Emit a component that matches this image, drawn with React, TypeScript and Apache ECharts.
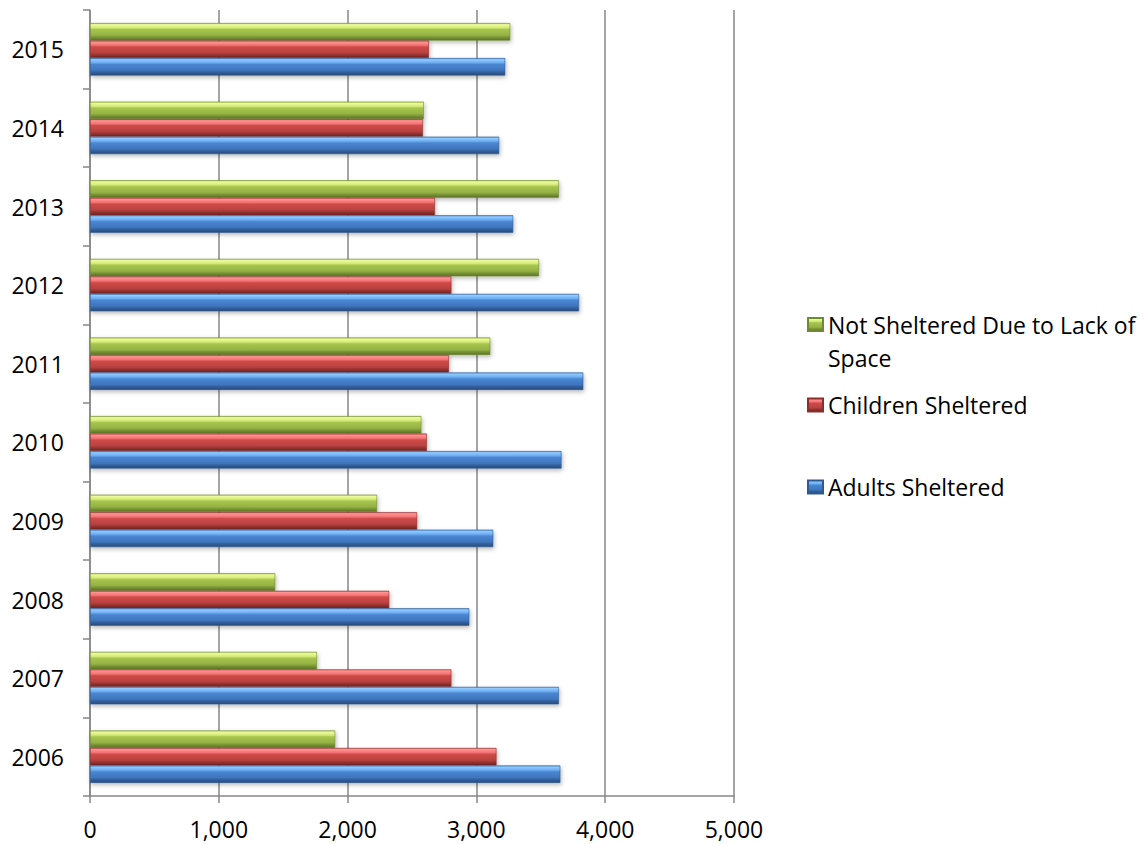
import React, { useEffect, useRef } from "react";
import * as echarts from "echarts";

const years = ["2006", "2007", "2008", "2009", "2010", "2011", "2012", "2013", "2014", "2015"];
const notSheltered = [1904, 1762, 1438, 2229, 2573, 3108, 3486, 3641, 2592, 3263];
const childrenSheltered = [3156, 2806, 2323, 2540, 2615, 2787, 2806, 2678, 2585, 2631];
const adultsSheltered = [3652, 3641, 2945, 3131, 3661, 3830, 3797, 3286, 3177, 3224];
const xTicks = [0, 1000, 2000, 3000, 4000, 5000];

const FONT = "'Open Sans', 'Noto Sans', sans-serif";
const FONT_SIZE = 23;
const GRID_GRAY = "#878787";

function barGradient(stops: string[]) {
  const pos = [0, 0.08, 0.26, 0.36, 0.7, 0.82, 1];
  return new echarts.graphic.LinearGradient(
    0, 0, 0, 1,
    stops.map((c, i) => ({ offset: pos[i], color: c }))
  );
}

const greenFill = ["#b3cf55", "#eefb9c", "#d2e977", "#a7c54f", "#95b244", "#7b9637", "#5c7326"];
const redFill = ["#e46666", "#ff9292", "#f27272", "#cf4a48", "#b84240", "#983432", "#702421"];
const blueFill = ["#5a9be6", "#90caff", "#6cabf1", "#4a86d2", "#3f76bd", "#33609d", "#274a79"];

export default function App() {
  const ref = useRef<HTMLDivElement>(null);

  useEffect(() => {
    if (!ref.current) return;
    const chart = echarts.init(ref.current, undefined, { renderer: "svg" });

    const barCommon = {
      type: "bar" as const,
      barWidth: 17.5,
      barGap: "0%",
    };
    const shadow = {
      shadowColor: "rgba(0,0,0,0.28)",
      shadowBlur: 4,
      shadowOffsetY: 2,
      shadowOffsetX: 1,
    };

    const legendBase = {
      orient: "vertical" as const,
      left: 807,
      padding: 0,
      itemWidth: 15,
      itemHeight: 13,
      icon: "rect",
      selectedMode: false,
      textStyle: { fontFamily: FONT, fontSize: FONT_SIZE, color: "#000", lineHeight: 26 },
    };

    chart.setOption({
      animation: false,
      backgroundColor: "#ffffff",
      grid: { left: 90, top: 10, width: 644, height: 786, containLabel: false },
      xAxis: {
        type: "value",
        min: 0,
        max: 5000,
        interval: 1000,
        axisLine: { show: true, lineStyle: { color: GRID_GRAY, width: 1.5 } },
        axisTick: { show: true, length: 7, lineStyle: { color: GRID_GRAY, width: 1.5 } },
        splitLine: { show: true, lineStyle: { color: GRID_GRAY, width: 1.5 } },
        axisLabel: {
          margin: 21,
          fontFamily: FONT,
          fontSize: FONT_SIZE,
          color: "#000",
          formatter: (v: number) =>
            xTicks.includes(v) ? v.toLocaleString("en-US") : "",
        },
      },
      yAxis: {
        type: "category",
        data: years,
        axisLine: { show: true, lineStyle: { color: GRID_GRAY, width: 1.5 } },
        axisTick: { show: true, length: 7, lineStyle: { color: GRID_GRAY, width: 1.5 } },
        axisLabel: { margin: 26, fontFamily: FONT, fontSize: FONT_SIZE, color: "#000" },
      },
      legend: [
        {
          ...legendBase,
          top: 275,
          data: ["Not Sheltered Due to Lack of Space"],
          // blank first line keeps the wrapped name's first line level with the swatch
          formatter: () => "\u00a0\nNot Sheltered Due to Lack of\nSpace",
          textStyle: { ...legendBase.textStyle, lineHeight: 33 },
        },
        { ...legendBase, top: 392, data: ["Children Sheltered"] },
        { ...legendBase, top: 474, data: ["Adults Sheltered"] },
      ],
      series: [
        {
          ...barCommon,
          name: "Not Sheltered Due to Lack of Space",
          data: notSheltered,
          itemStyle: { color: barGradient(greenFill), borderColor: "#6f8a30", borderWidth: 0.6, ...shadow },
        },
        {
          ...barCommon,
          name: "Children Sheltered",
          data: childrenSheltered,
          itemStyle: { color: barGradient(redFill), borderColor: "#8a2e2c", borderWidth: 0.6, ...shadow },
        },
        {
          ...barCommon,
          name: "Adults Sheltered",
          data: adultsSheltered,
          itemStyle: { color: barGradient(blueFill), borderColor: "#2f5a90", borderWidth: 0.6, ...shadow },
        },
      ],
    });

    return () => chart.dispose();
  }, []);

  return (
    <div
      ref={ref}
      style={{ position: "fixed", left: 0, top: 0, width: 1146, height: 844, background: "#fff" }}
    />
  );
}
